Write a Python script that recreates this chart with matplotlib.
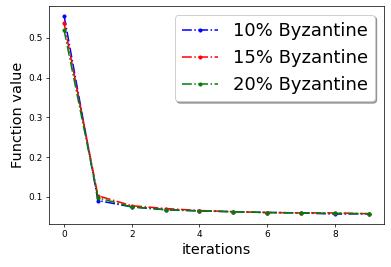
import numpy as np
import matplotlib
matplotlib.use("Agg")
import matplotlib.pyplot as plt

iterations = np.arange(10)
byz10 = [0.555, 0.091, 0.075, 0.068, 0.065, 0.063, 0.061, 0.060, 0.057, 0.058]
byz15 = [0.536, 0.103, 0.078, 0.071, 0.066, 0.063, 0.061, 0.060, 0.060, 0.058]
byz20 = [0.519, 0.098, 0.075, 0.068, 0.065, 0.063, 0.061, 0.060, 0.059, 0.058]

fig = plt.figure(figsize=(391 / 65, 267 / 65), dpi=65)
ax = fig.add_axes([0.125, 0.161, 0.857, 0.817])

ax.plot(iterations, byz10, 'b.-.', label="10% Byzantine", lw=1.7, ms=7)
ax.plot(iterations, byz15, 'r.-.', label="15% Byzantine", lw=1.7, ms=7)
ax.plot(iterations, byz20, 'g.-.', label="20% Byzantine", lw=1.7, ms=7)

ax.set_xlabel("iterations", fontsize=16)
ax.set_ylabel("Function value", fontsize=16)
ax.legend(fontsize=20, loc="upper right", shadow=True)

fig.savefig("out.png", dpi=65)
